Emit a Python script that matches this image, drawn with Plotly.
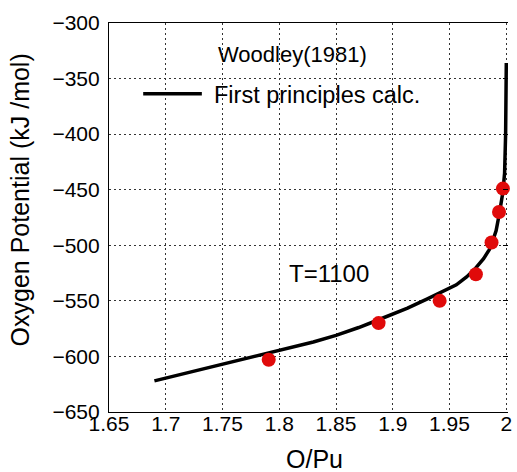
import plotly.graph_objects as go

# Calculated curve (First principles calc.)
calc_x = [1.69, 1.72, 1.75, 1.78, 1.80, 1.83, 1.85, 1.87, 1.8875, 1.913, 1.93, 1.941,
          1.956, 1.965, 1.973, 1.98, 1.985, 1.988, 1.991, 1.994, 1.997, 1.9985, 1.9994, 2.0]
calc_y = [-622, -614.5, -607, -600, -595, -587, -581, -574, -567, -556.6, -548.5, -543,
          -535.6, -528.5, -520.6, -512, -504, -496, -487, -471, -452, -435, -400, -336]

# Experimental data, Woodley (1981)
exp_x = [1.7907, 1.8875, 1.9413, 1.9732, 1.987, 1.9936, 1.997]
exp_y = [-603, -570, -550, -526, -497.5, -470, -449]

x_ticks = [1.65, 1.7, 1.75, 1.8, 1.85, 1.9, 1.95, 2.0]
x_tick_text = ["1.65", "1.7", "1.75", "1.8", "1.85", "1.9", "1.95", "2"]
y_ticks = [-650, -600, -550, -500, -450, -400, -350, -300]

FONT = "Liberation Sans, Arial, sans-serif"

fig = go.Figure()
fig.add_trace(go.Scatter(x=calc_x, y=calc_y, mode="lines",
                         line=dict(color="black", width=3.5),
                         name="First principles calc.", showlegend=False))
fig.add_trace(go.Scatter(x=exp_x, y=exp_y, mode="markers",
                         marker=dict(color="#e00a0a", size=14, line=dict(width=0)),
                         cliponaxis=False, name="Woodley(1981)", showlegend=False))
# invisible trace for the right-side mirrored ticks
fig.add_trace(go.Scatter(x=[1.65], y=[-650], yaxis="y2", mode="markers",
                         marker=dict(opacity=0), showlegend=False, hoverinfo="skip"))

grid = dict(showgrid=True, gridcolor="#333333", griddash="2px,3px", gridwidth=1)

X_MAX = 2.0015

fig.update_layout(
    width=517, height=472,
    margin=dict(l=109, r=5, t=23, b=60),
    paper_bgcolor="white", plot_bgcolor="white",
    font=dict(family=FONT, color="black"),
    showlegend=False,
    xaxis=dict(range=[1.65, X_MAX], tickvals=x_ticks, ticktext=x_tick_text,
               showline=True, linecolor="black", linewidth=1.2, mirror=True,
               ticks="", ticklabelstandoff=-7,
               tickfont=dict(size=21, family=FONT), zeroline=False, **grid),
    yaxis=dict(range=[-650, -300], tickvals=y_ticks,
               showline=True, linecolor="black", linewidth=1.2,
               ticks="", ticklabelstandoff=4,
               tickfont=dict(size=21, family=FONT), zeroline=False, **grid),
    yaxis2=dict(range=[-650, -300], overlaying="y", side="right", tickvals=y_ticks,
                showticklabels=False, ticks="inside", ticklen=5, tickcolor="black",
                showline=False, showgrid=False, zeroline=False),
)

ann = [
    dict(text="Oxygen Potential (kJ /mol)", x=-0.222, y=0.545, textangle=-90,
         font=dict(size=25)),
    dict(text="O/Pu", x=0.516, y=-0.122, font=dict(size=25)),
    dict(text="Woodley(1981)", x=0.4593, y=0.918, font=dict(size=22)),
    dict(text="First principles calc.", x=0.2579, y=0.815, xanchor="left", font=dict(size=23.5)),
    dict(text="T=1100", x=0.5515, y=0.355, font=dict(size=24)),
]
for a in ann:
    a.setdefault("xanchor", "center")
    fig.add_annotation(xref="paper", yref="paper", showarrow=False, yanchor="middle",
                       **a)

fig.add_shape(type="line", xref="paper", yref="paper",
              x0=0.0857, x1=0.2327, y0=0.818, y1=0.818,
              line=dict(color="black", width=3.5))

fig.write_html("out.html", config={"displayModeBar": False},
               post_script="document.body.style.margin='0px';document.body.style.padding='0px';")
